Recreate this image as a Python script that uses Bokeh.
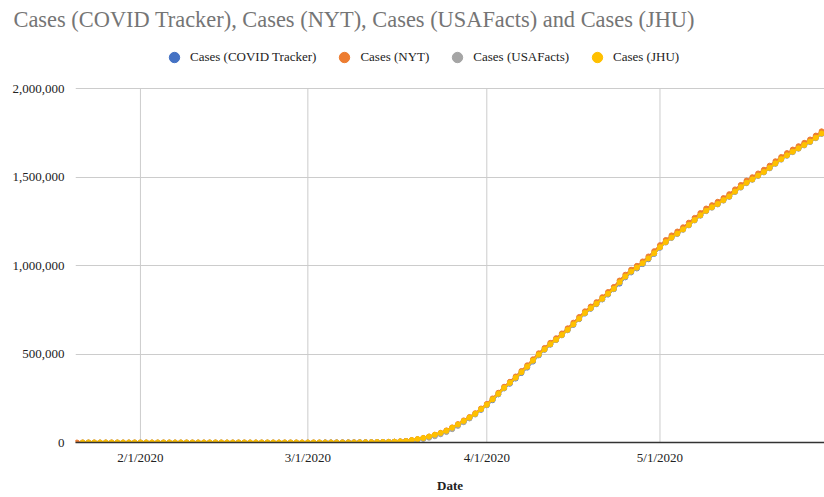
import pandas as pd
from datetime import datetime
from bokeh.plotting import figure
from bokeh.models import (Range1d, FixedTicker, NumeralTickFormatter, Legend,
                          LegendItem, ColumnDataSource)
from bokeh.embed import file_html
from bokeh.resources import INLINE

title_text = "Cases (COVID Tracker), Cases (NYT), Cases (USAFacts) and Cases (JHU)"
series_names = ["Cases (COVID Tracker)", "Cases (NYT)", "Cases (USAFacts)", "Cases (JHU)"]
series_colors = ["#4472C4", "#ED7D31", "#A5A5A5", "#FFC000"]

# first date of each series (daily values follow)
tracker_start = "2020-03-04"
nyt_start = "2020-01-21"
usafacts_start = "2020-01-22"
jhu_start = "2020-01-22"

tracker_cases = [
    118, 176, 223, 341, 417, 584, 778, 1053, 1315, 1922, 2450, 3173, 4019, 5723, 7730,
    11723, 17038, 23197, 31879, 42152, 51954, 63928, 80735, 99413, 118592, 137943, 160530, 184683,
    210770, 239009, 271988, 305755, 332308, 361331, 392594, 423164, 457321, 492416,
    524514, 553822, 580166, 606900, 635206, 664898, 696916, 729045, 756006, 782159,
    808403, 836048, 866011, 897713, 933016, 960969, 983457, 1008043, 1035353, 1065739,
    1101017, 1132539, 1158040, 1180375, 1204351, 1228603, 1256972, 1283929, 1309541, 1329799,
    1347309, 1369964, 1390746, 1417889, 1443397, 1467884, 1486515, 1508598, 1528235, 1551095,
    1577758, 1601251, 1622670, 1643499, 1662768, 1681793, 1700670, 1722223, 1746001,
]

nyt_cases = [
    1, 1, 1, 2, 3, 5, 5, 5, 5, 6, 7,
    8, 11, 11, 11, 12, 12, 12, 12, 12, 12, 13, 13, 14, 14, 15, 15, 15, 15, 15, 15,
    15, 25, 25, 25, 51, 57, 58, 60, 68,
    76, 101, 124, 159, 227, 320, 445, 572, 728, 1010, 1301, 1693, 2237, 2950, 3670, 4720,
    6425, 9359, 13870, 19060, 25830, 34055, 43980, 54760, 68415, 85340, 103970, 124830,
    143660, 165630, 192120,
    218000, 249000, 281000, 315000, 343000, 373000, 404000, 436000, 470000, 504000,
    534000, 563000, 589000, 616000, 645000, 677000, 709000, 741000, 768000, 793000,
    821000, 850000, 879000, 915000, 948000, 976000, 998000, 1023000, 1051000, 1081000,
    1115000, 1144000, 1170000, 1192000, 1216000, 1242000, 1269000, 1296000, 1322000, 1341000,
    1360000, 1381000, 1403000, 1430000, 1455000, 1480000, 1499000, 1520000, 1541000, 1564000,
    1589000, 1613000, 1635000, 1655000, 1674000, 1693000, 1712000, 1734000, 1758000,
]

usafacts_cases = [
    1, 1, 2, 2, 5, 5, 5, 5, 5, 6,
    8, 8, 11, 11, 11, 12, 12, 12, 12, 12, 13, 13, 14, 14, 14, 14, 14, 14, 14, 14,
    14, 14, 14, 14, 14, 15, 16, 19, 24,
    30, 53, 73, 104, 175, 232, 314, 426, 564, 738, 1017, 1346, 1788, 2285, 2972, 3779,
    5095, 7230, 10576, 14857, 19804, 26710, 35071, 46450, 58860, 75123, 93890, 114665,
    135893, 158061, 185474,
    210800, 241900, 273200, 306200, 335000, 364200, 395000, 426500, 460300, 494000,
    523800, 552500, 578200, 605400, 634000, 665000, 697100, 729300, 756200, 781600,
    809300, 837800, 866800, 902400, 935200, 963000, 985500, 1010000, 1037500, 1066800,
    1100500, 1129600, 1155200, 1177600, 1201500, 1226500, 1254200, 1281000, 1306700, 1326300,
    1345000, 1366400, 1387500, 1414800, 1439800, 1464900, 1483800, 1505300, 1525600, 1548900,
    1574100, 1597900, 1619600, 1640200, 1659300, 1678200, 1696900, 1718700, 1743000,
]

jhu_cases = [
    1, 1, 2, 2, 5, 5, 5, 5, 5, 7,
    8, 8, 11, 11, 11, 11, 11, 11, 11, 11, 12, 12, 13, 13, 13, 13, 13, 13, 13, 13,
    15, 15, 15, 51, 51, 57, 58, 60, 68,
    74, 98, 118, 149, 217, 262, 402, 518, 583, 959, 1281, 1663, 2179, 2727, 3499, 4632,
    6421, 7786, 13680, 19101, 25493, 33276, 43847, 53740, 65778, 83836, 101657, 121465,
    140909, 161831, 188172,
    213242, 243622, 275367, 308650, 336802, 366317, 397121, 428654, 462780, 496535,
    526396, 555313, 580619, 607670, 636350, 667592, 699706, 732197, 758809, 784326,
    811865, 840351, 869170, 905358, 938154, 965785, 988197, 1012582, 1039909, 1069424,
    1103461, 1132539, 1158040, 1180375, 1204351, 1229331, 1257023, 1283929, 1309550, 1329260,
    1347881, 1369376, 1390406, 1417774, 1442824, 1467820, 1486757, 1508308, 1528568, 1551853,
    1577147, 1600937, 1622612, 1643246, 1662302, 1681212, 1699933, 1721750, 1746019,
]

x_tick_dates = ["2020-02-01", "2020-03-01", "2020-04-01", "2020-05-01"]
x_tick_labels = ["2/1/2020", "3/1/2020", "4/1/2020", "5/1/2020"]
y_ticks = [0, 500000, 1000000, 1500000, 2000000]
y_max = 2000000

SERIF = "Liberation Serif"

# layout (pixels): frame spans from below the title to the x axis; the value
# axis top (y_max) sits lower inside the frame so the legend fits above it
FRAME_TOP, AXIS_TOP, AXIS_BOTTOM = 31, 88, 442
y_end = y_max * (AXIS_BOTTOM - FRAME_TOP) / (AXIS_BOTTOM - AXIS_TOP)

p = figure(width=824, height=497, x_axis_type="datetime",
           output_backend="svg", toolbar_location=None,
           x_range=Range1d(datetime(2020, 1, 20, 18), datetime(2020, 5, 29, 12)),
           y_range=Range1d(0, y_end),
           min_border_left=75, min_border_right=0, min_border_bottom=55,
           min_border_top=FRAME_TOP)
p.outline_line_color = None

p.title.text = title_text
p.title.text_font = SERIF
p.title.text_font_size = "22.4px"
p.title.text_font_style = "normal"
p.title.text_color = "#757575"
p.title.align = "left"
p.title.offset = -62
p.title.standoff = 0

tick_dt = pd.to_datetime(x_tick_dates)
p.segment(x0=tick_dt, y0=[0] * len(tick_dt), x1=tick_dt, y1=[y_max] * len(tick_dt),
          line_color="#cccccc", line_width=1)

starts = [tracker_start, nyt_start, usafacts_start, jhu_start]
values = [tracker_cases, nyt_cases, usafacts_cases, jhu_cases]
items = []
for name, start, vals, color in zip(series_names, starts, values, series_colors):
    src = ColumnDataSource(dict(x=pd.date_range(start, periods=len(vals), freq="D"), y=vals))
    p.line("x", "y", source=src, line_color=color, line_width=2)
    r = p.scatter("x", "y", source=src, size=5, fill_color=color, line_color=color)
    items.append(LegendItem(label=name, renderers=[r]))

legend = Legend(items=items, orientation="horizontal", location=(86, 372),
                glyph_width=26, glyph_height=26, label_standoff=3, spacing=15,
                label_text_font=SERIF, label_text_font_size="13px", label_text_color="#222222",
                border_line_color=None, background_fill_alpha=0, padding=0, margin=0)
p.add_layout(legend, "center")

tick_ms = [pd.Timestamp(d).value // 10**6 for d in x_tick_dates]
xa = p.xaxis[0]
xa.ticker = FixedTicker(ticks=tick_ms)
xa.major_label_overrides = {t: lab for t, lab in zip(tick_ms, x_tick_labels)}
xa.axis_line_color = "#333333"
xa.axis_line_width = 1.5
xa.major_tick_line_color = None
xa.minor_tick_line_color = None
xa.major_label_text_font = SERIF
xa.major_label_text_font_size = "13px"
xa.major_label_text_color = "#222222"
xa.major_label_standoff = 1
xa.axis_label = "Date"
xa.axis_label_text_font = SERIF
xa.axis_label_text_font_size = "13px"
xa.axis_label_text_font_style = "bold"
xa.axis_label_text_color = "#222222"
xa.axis_label_standoff = 10

ya = p.yaxis[0]
ya.ticker = FixedTicker(ticks=y_ticks)
ya.formatter = NumeralTickFormatter(format="0,0")
ya.axis_line_color = None
ya.major_tick_line_color = None
ya.minor_tick_line_color = None
ya.major_label_text_font = SERIF
ya.major_label_text_font_size = "13px"
ya.major_label_text_color = "#222222"
ya.major_label_standoff = 5

p.xgrid.visible = False
p.ygrid.ticker = FixedTicker(ticks=y_ticks)
p.ygrid.grid_line_color = "#cccccc"
p.ygrid.grid_line_width = 1

open("out.html", "w").write(file_html(p, INLINE))
